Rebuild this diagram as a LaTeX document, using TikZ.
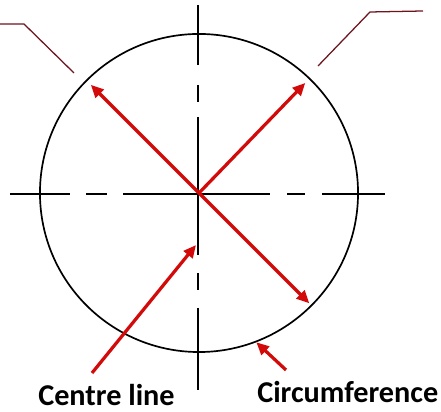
\documentclass[tikz,border=0pt]{standalone}
\usepackage{fontspec}
\setsansfont{Carlito}
\usepackage{tikz}
\usetikzlibrary{arrows.meta, positioning, calc}

\definecolor{arrowred}{RGB}{210,10,10}
\definecolor{leaderred}{RGB}{110,20,30}

\begin{document}
\begin{tikzpicture}[
	x=0.025cm, y=0.025cm,
	pointer/.style={arrowred, line width=2.3pt, -{Triangle[length=9pt,width=8pt]}},
	centreline/.style={black, line width=1.1pt},
	leader/.style={leaderred, line width=0.9pt},
	outline/.style={circle, draw=black, line width=1.2pt, minimum size=7.95cm, inner sep=0pt},
	caption/.style={font=\sffamily\bfseries\fontsize{21.5}{23}\selectfont, inner sep=0pt, anchor=base west}
]
\useasboundingbox (0,0) rectangle (441,412);

% Circle and centre
\coordinate (O) at (199,219);
\node[outline] (C) at (O) {};

% Centre lines
\foreach \a/\b in {10/70,86/107,123/270,287/305,322/385}
	\draw[centreline] (\a,218) -- (\b,218);
\foreach \a/\b in {407/347,327/310,295/157,139/122,104/22}
	\draw[centreline] (198,\a) -- (198,\b);

% Radius arrows
\coordinate (ul) at ($(O)+(135:153)$);
\coordinate (ur) at ($(O)+(46:153)$);
\coordinate (lr) at ($(O)+(-45:156)$);
\draw[pointer] (O) -- (ul);
\draw[pointer] (O) -- (ur);
\draw[pointer] (O) -- (lr);

% Labels
\node[caption] (centre) at (38,6) {Centre line};
\node[caption] (circum) at (257,9) {Circumference};

% Pointers from labels
\coordinate (ctail) at (92,39);
\coordinate (ctip) at (196,167);
\draw[pointer] (ctail) -- (ctip);
\coordinate (rtail) at (286,42);
\draw[pointer] (rtail) -- (C.-69);

% Leader lines to cut-off notes
\coordinate (lend) at (74,339);
\coordinate (rend) at (318,346);
\draw[leader] (0,388) -- (24,388) -- (lend);
\draw[leader] (rend) -- (370,400) -- (423,401);

\end{tikzpicture}
\end{document}
